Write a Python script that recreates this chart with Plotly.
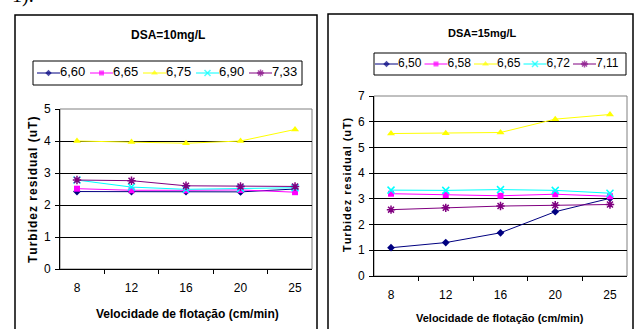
import plotly.graph_objects as go

W, H = 635, 329

categories = ["8", "12", "16", "20", "25"]

# DSA = 10 mg/L
left_names = ["6,60", "6,65", "6,75", "6,90", "7,33"]
left_660 = [2.42, 2.42, 2.42, 2.41, 2.50]
left_665 = [2.51, 2.46, 2.46, 2.47, 2.40]
left_675 = [4.00, 3.97, 3.93, 4.00, 4.36]
left_690 = [2.78, 2.56, 2.49, 2.52, 2.54]
left_733 = [2.78, 2.76, 2.60, 2.58, 2.58]

# DSA = 15 mg/L
right_names = ["6,50", "6,58", "6,65", "6,72", "7,11"]
right_650 = [1.10, 1.30, 1.68, 2.50, 3.02]
right_658 = [3.20, 3.15, 3.12, 3.18, 3.10]
right_665 = [5.54, 5.55, 5.58, 6.10, 6.28]
right_672 = [3.34, 3.33, 3.36, 3.33, 3.22]
right_711 = [2.58, 2.65, 2.72, 2.75, 2.78]

y_ticks_left = [0, 1, 2, 3, 4, 5]
y_ticks_right = [0, 1, 2, 3, 4, 5, 6, 7]

colors = ["#000080", "#FF00FF", "#FFFF00", "#00FFFF", "#800080"]
symbols = ["diamond", "square", "triangle-up", "x-thin-open", "asterisk-open"]
msizes = [6, 6, 7, 7, 7]

FONT = "Liberation Sans, Arial, sans-serif"


def px_x(x):
    return x / W


def px_y(y):
    return 1 - y / H


fig = go.Figure()

left_series = [left_660, left_665, left_675, left_690, left_733]
right_series = [right_650, right_658, right_665, right_672, right_711]


def marker_style(i):
    m = dict(symbol=symbols[i], size=msizes[i], color=colors[i])
    if symbols[i].endswith("open"):
        m["line"] = dict(color=colors[i], width=1.5)
    else:
        m["line"] = dict(width=0)
    return m


for i, vals in enumerate(left_series):
    fig.add_trace(go.Scatter(x=categories, y=vals, mode="lines+markers",
                             line=dict(color=colors[i], width=1),
                             marker=marker_style(i), showlegend=False,
                             xaxis="x", yaxis="y"))
for i, vals in enumerate(right_series):
    fig.add_trace(go.Scatter(x=categories, y=vals, mode="lines+markers",
                             line=dict(color=colors[i], width=1),
                             marker=marker_style(i), showlegend=False,
                             xaxis="x2", yaxis="y2"))


# custom legend entries (keys) on hidden axes, in pixel units of the legend box
def add_legend(names, xa, ya, start, step, seg, fsize):
    for i, nm in enumerate(names):
        s = start + i * step
        fig.add_trace(go.Scatter(
            x=[s, s + seg / 2, s + seg], y=[0.5, 0.5, 0.5],
            mode="lines+markers+text",
            text=["", "", nm], textposition="middle right",
            textfont=dict(family=FONT, size=fsize, color="black"),
            line=dict(color=colors[i], width=1),
            marker=dict(symbol=symbols[i], size=[0, msizes[i] - 1, 0], color=colors[i],
                        line=dict(color=colors[i], width=1.5 if symbols[i].endswith("open") else 0)),
            showlegend=False, xaxis=xa, yaxis=ya, hoverinfo="skip"))


add_legend(left_names, "x3", "y3", 4, 53, 23, 13)
add_legend(right_names, "x4", "y4", 1, 49.5, 23, 12)

L = dict(x0=60, x1=312, y0=109, y1=269)
R = dict(x0=374, x1=627, y0=96, y1=276)


def xaxis_cfg(area, anchor):
    return dict(domain=[px_x(area["x0"]), px_x(area["x1"])], anchor=anchor,
                type="category", tickson="boundaries", ticks="outside", ticklen=4,
                tickcolor="black", showline=True, linecolor="black", linewidth=1,
                showgrid=False, zeroline=False, fixedrange=True,
                tickfont=dict(family=FONT, size=12, color="black"),
                ticklabelstandoff=8)


def yaxis_cfg(area, anchor, ticks):
    return dict(domain=[px_y(area["y1"]), px_y(area["y0"])], anchor=anchor,
                range=[0, ticks[-1]], tickvals=ticks, ticks="outside", ticklen=4,
                tickcolor="black", showline=True, linecolor="black", linewidth=1,
                showgrid=True, gridcolor="black", gridwidth=1, zeroline=False,
                tickfont=dict(family=FONT, size=12, color="black"),
                ticklabelstandoff=2)


LL = dict(x0=33, x1=302, y0=61, y1=85)
RL = dict(x0=374, x1=626, y0=53, y1=75)

fig.update_layout(
    width=W, height=H, margin=dict(l=0, r=0, t=0, b=0),
    paper_bgcolor="white", plot_bgcolor="white", template="none",
    xaxis=xaxis_cfg(L, "y"), yaxis=yaxis_cfg(L, "x", y_ticks_left),
    xaxis2=xaxis_cfg(R, "y2"), yaxis2=yaxis_cfg(R, "x2", y_ticks_right),
    xaxis3=dict(domain=[px_x(LL["x0"]), px_x(LL["x1"])], range=[0, LL["x1"] - LL["x0"]],
                visible=False, anchor="y3", fixedrange=True),
    yaxis3=dict(domain=[px_y(LL["y1"]), px_y(LL["y0"])], range=[0, 1],
                visible=False, anchor="x3", fixedrange=True),
    xaxis4=dict(domain=[px_x(RL["x0"]), px_x(RL["x1"])], range=[0, RL["x1"] - RL["x0"]],
                visible=False, anchor="y4", fixedrange=True),
    yaxis4=dict(domain=[px_y(RL["y1"]), px_y(RL["y0"])], range=[0, 1],
                visible=False, anchor="x4", fixedrange=True),
)

shapes = []
# outer chart boxes
shapes.append(dict(type="rect", xref="paper", yref="paper", x0=px_x(15), x1=px_x(317),
                   y0=px_y(340), y1=px_y(15), line=dict(color="black", width=1.5), layer="below"))
shapes.append(dict(type="rect", xref="paper", yref="paper", x0=px_x(328), x1=px_x(633),
                   y0=px_y(340), y1=px_y(14), line=dict(color="black", width=1.5), layer="below"))
# plot-area borders (gray)
for a in (L, R):
    shapes.append(dict(type="rect", xref="paper", yref="paper", x0=px_x(a["x0"]), x1=px_x(a["x1"]),
                       y0=px_y(a["y1"]), y1=px_y(a["y0"]), line=dict(color="#808080", width=1),
                       layer="below"))
# legend boxes
for a in (LL, RL):
    shapes.append(dict(type="rect", xref="paper", yref="paper", x0=px_x(a["x0"]), x1=px_x(a["x1"]),
                       y0=px_y(a["y1"]), y1=px_y(a["y0"]), line=dict(color="black", width=1),
                       layer="below"))
fig.update_layout(shapes=shapes)


def spaced(s):
    return "\u200a".join(list(s))


ann = []
ann.append(dict(text="1).", xref="paper", yref="paper", x=px_x(10), y=px_y(-5),
                xanchor="left", yanchor="middle", showarrow=False,
                font=dict(family="Liberation Serif, Times New Roman, serif", size=20, color="black")))
ann.append(dict(text="<b>DSA=10mg/L</b>", xref="paper", yref="paper", x=px_x(168), y=px_y(35),
                xanchor="center", yanchor="middle", showarrow=False,
                font=dict(family=FONT, size=12, color="black")))
ann.append(dict(text="<b>DSA=15mg/L</b>", xref="paper", yref="paper", x=px_x(482), y=px_y(33),
                xanchor="center", yanchor="middle", showarrow=False,
                font=dict(family=FONT, size=11, color="black")))
ann.append(dict(text="<b>" + spaced("Turbidez residual (uT)") + "</b>", xref="paper", yref="paper",
                x=px_x(33), y=px_y(190), xanchor="center", yanchor="middle", textangle=-90,
                showarrow=False, font=dict(family=FONT, size=12, color="black")))
ann.append(dict(text="<b>" + spaced("Turbidez residual (uT)") + "</b>", xref="paper", yref="paper",
                x=px_x(347), y=px_y(185), xanchor="center", yanchor="middle", textangle=-90,
                showarrow=False, font=dict(family=FONT, size=11, color="black")))
ann.append(dict(text="<b>Velocidade de flotação (cm/min)</b>", xref="paper", yref="paper",
                x=px_x(187), y=px_y(314), xanchor="center", yanchor="middle", showarrow=False,
                font=dict(family=FONT, size=12, color="black")))
ann.append(dict(text="<b>Velocidade de flotação (cm/min)</b>", xref="paper", yref="paper",
                x=px_x(500), y=px_y(318), xanchor="center", yanchor="middle", showarrow=False,
                font=dict(family=FONT, size=11, color="black")))
fig.update_layout(annotations=ann)

fig.write_html("out.html")
